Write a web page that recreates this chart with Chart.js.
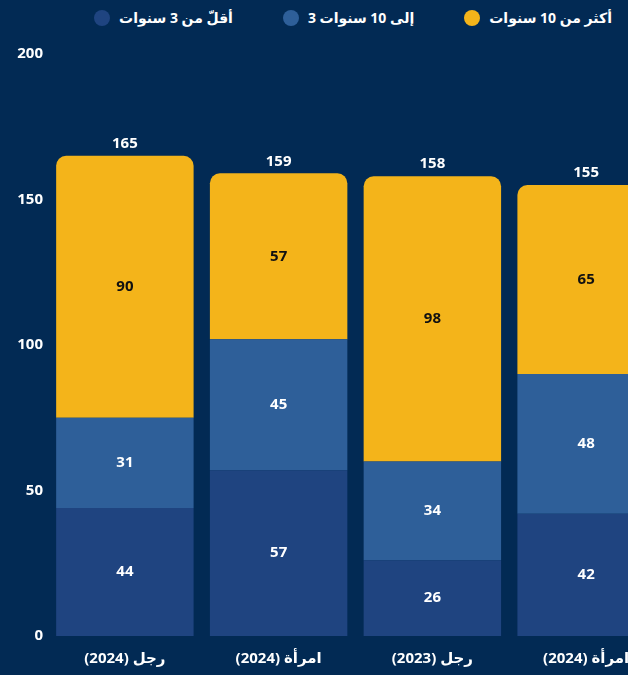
<!DOCTYPE html>
<html>
<head>
<meta charset="utf-8">
<script src="https://cdn.jsdelivr.net/npm/chart.js@4"></script>
<style>
  html, body { margin: 0; padding: 0; background: #022a54; }
  #wrap { position: relative; width: 628px; height: 675px; overflow: hidden; background: #022a54; }
  #legend { position: absolute; top: 8px; right: 16px; display: flex; align-items: center; direction: ltr;
            font: bold 14px "Noto Sans", "DejaVu Sans", sans-serif; color: #fff; white-space: nowrap; }
  #legend .item { display: flex; align-items: center; margin-left: 50px; }
  #legend .item:first-child { margin-left: 0; }
  #legend .dot { width: 16px; height: 16px; border-radius: 50%; margin-right: 9px; }
  #chart { position: absolute; left: 0; top: 0; }
</style>
</head>
<body>
<div id="wrap">
  <div id="legend"></div>
  <canvas id="chart" width="680" height="675"></canvas>
</div>
<script>
var categories = ["(2024) رجل", "(2024) امرأة", "(2023) رجل", "(2024) امرأة"];
var under3 = [44, 57, 26, 42];
var from3to10 = [31, 45, 34, 48];
var over10 = [90, 57, 98, 65];
var seriesNames = ["أقلّ من 3 سنوات", "3 إلى 10 سنوات", "أكثر من 10 سنوات"];
var yTicks = [0, 50, 100, 150, 200];

var colors = ["#1f4480", "#2e5f99", "#f4b41a"];
var labelColors = ["#ffffff", "#ffffff", "#111111"];
var font = { family: '"Noto Sans", "DejaVu Sans", sans-serif', size: 15, weight: "bold" };

// values inside each segment + stack total above the bar
var valueLabels = {
	id: "valueLabels",
	afterDatasetsDraw: function(chart){
		var ctx = chart.ctx;
		ctx.save();
		ctx.font = "bold 15px " + font.family;
		ctx.textAlign = "center";
		ctx.textBaseline = "middle";
		chart.data.datasets.forEach(function(ds, di){
			var meta = chart.getDatasetMeta(di);
			meta.data.forEach(function(bar, i){
				var p = bar.getProps(["x", "y", "base"], true);
				ctx.fillStyle = labelColors[di];
				ctx.fillText(ds.data[i], p.x, (p.y + p.base) / 2);
			});
		});
		var top = chart.getDatasetMeta(chart.data.datasets.length - 1);
		top.data.forEach(function(bar, i){
			var total = under3[i] + from3to10[i] + over10[i];
			var p = bar.getProps(["x"], true);
			ctx.fillStyle = "#ffffff";
			ctx.fillText(total, p.x, chart.scales.y.getPixelForValue(total) - 12);
		});
		ctx.restore();
	}
};

var seriesData = [under3, from3to10, over10];
var datasets = seriesData.map(function(d, i){
	return {
		label: seriesNames[i],
		data: d,
		backgroundColor: colors[i],
		borderWidth: 0,
		borderSkipped: false,
		borderRadius: i == 2 ? { topLeft: 10, topRight: 10, bottomLeft: 0, bottomRight: 0 } : 0
	};
});

var legend = document.getElementById("legend");
datasets.forEach(function(ds){
	var item = document.createElement("div");
	item.className = "item";
	var dot = document.createElement("span");
	dot.className = "dot";
	dot.style.background = ds.backgroundColor;
	var txt = document.createElement("span");
	txt.textContent = ds.label;
	item.appendChild(dot);
	item.appendChild(txt);
	legend.appendChild(item);
});

var chart = new Chart(document.getElementById("chart"), {
	type: "bar",
	data: { labels: categories, datasets: datasets },
	plugins: [valueLabels],
	options: {
		responsive: false,
		animation: false,
		layout: { padding: { top: 54, right: 17, left: 0, bottom: 0 } },
		plugins: { legend: { display: false }, tooltip: { enabled: false } },
		datasets: { bar: { categoryPercentage: 1, barPercentage: 0.894 } },
		scales: {
			x: {
				stacked: true,
				grid: { display: false, drawTicks: false },
				border: { display: false },
				ticks: { color: "#ffffff", font: font, padding: 14, maxRotation: 0 },
				afterFit: function(s){ s.height = 39; }
			},
			y: {
				stacked: true,
				min: 0,
				max: 200,
				afterBuildTicks: function(s){ s.ticks = yTicks.map(function(v){ return { value: v }; }); },
				grid: { display: false, drawTicks: false },
				border: { display: false },
				ticks: { color: "#ffffff", font: font, padding: 5 },
				afterFit: function(s){ s.width = 48; }
			}
		}
	}
});
</script>
</body>
</html>
